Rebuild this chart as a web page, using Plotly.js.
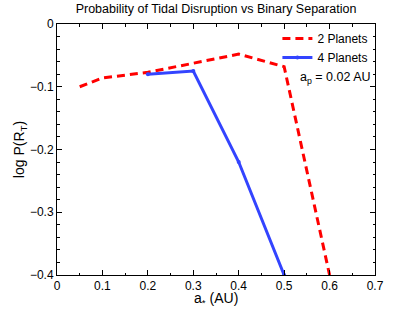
<!DOCTYPE html>
<html><head><meta charset="utf-8">
<script src="https://cdn.plot.ly/plotly-3.0.1.min.js"></script>
<style>html,body{margin:0;padding:0;background:#fff}#chart{width:415px;height:313px}</style>
</head><body><div id="chart"></div>
<script>
const x2 = [0.05, 0.1, 0.2, 0.3, 0.4, 0.5, 0.6];
const y2 = [-0.1, -0.086, -0.077, -0.063, -0.048, -0.068, -0.4];
const x4 = [0.2, 0.3, 0.4, 0.5];
const y4 = [-0.080, -0.075, -0.22, -0.4];
const names = ['2 Planets', '4 Planets'];
const xTicks = [0, 0.1, 0.2, 0.3, 0.4, 0.5, 0.6, 0.7];
const yTicks = [0, -0.1, -0.2, -0.3, -0.4];

const font = {family: 'Liberation Sans, Arial, sans-serif', color: '#000'};
const traces = [
  {x: x2, y: y2, name: names[0], mode: 'lines', line: {color: '#ff0000', width: 3, dash: '8px,5px'}},
  {x: x4, y: y4, name: names[1], mode: 'lines+markers', line: {color: '#3344ff', width: 3}, marker: {size: 4, color: '#3344ff'}}
];
const axisCommon = {showline: true, linecolor: '#000', linewidth: 1, mirror: 'ticks', ticks: 'inside', ticklen: 5, tickcolor: '#000', showgrid: false, zeroline: false, tickfont: Object.assign({size: 12}, font)};
const layout = {
  width: 415, height: 313,
  margin: {l: 57, r: 40, t: 24, b: 38},
  paper_bgcolor: '#fff', plot_bgcolor: '#fff',
  font: font,
  title: {text: 'Probability of Tidal Disruption vs Binary Separation', font: Object.assign({size: 12.5}, font), xref: 'paper', x: 0.5, xanchor: 'center', y: 0.985, yanchor: 'top'},
  xaxis: Object.assign({}, axisCommon, {range: [0, 0.7], tickvals: xTicks, ticktext: xTicks.map(v => String(v)),
    minor: {ticks: 'inside', ticklen: 2.5, tickcolor: '#000', dtick: 0.05, showgrid: false}}),
  yaxis: Object.assign({}, axisCommon, {range: [-0.4, 0], tickvals: yTicks, ticktext: yTicks.map(v => v === 0 ? '0' : '\u2212' + String(Math.abs(v))),
    minor: {ticks: 'inside', ticklen: 2.5, tickcolor: '#000', dtick: 0.02, showgrid: false},
    title: {text: 'log P(R<sub>T</sub>)', font: Object.assign({size: 14}, font), standoff: 1}}),
  showlegend: true,
  legend: {x: 0.995, y: 1.0, xanchor: 'right', yanchor: 'top', bgcolor: 'rgba(255,255,255,0)', font: Object.assign({size: 12}, font), tracegroupgap: 0},
  annotations: [
    {text: 'a<sub>p</sub> = 0.02 AU', xref: 'paper', yref: 'paper', x: 0.995, y: 0.785, xanchor: 'right', yanchor: 'middle', showarrow: false, font: Object.assign({size: 12.5}, font)},
    {text: 'a<sub>*</sub> (AU)', xref: 'paper', yref: 'paper', x: 0.5, y: -0.097, xanchor: 'center', yanchor: 'middle', showarrow: false, font: Object.assign({size: 14}, font)}
  ]
};
Plotly.newPlot('chart', traces, layout, {displayModeBar: false, staticPlot: true});
</script></body></html>
